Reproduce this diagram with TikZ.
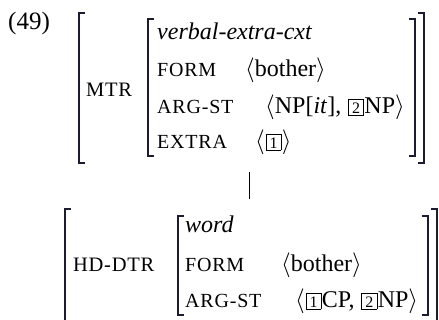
\documentclass[tikz,border=0pt]{standalone}
\usepackage{fontspec}
\setmainfont{Liberation Serif}
\newfontfamily\featfont[LetterSpace=4]{Liberation Serif}
\newfontfamily\pathfont[LetterSpace=3.5]{Liberation Serif}

% feature names (small-cap style), path labels, boxed tags
\newcommand\feat[1]{{\featfont\fontsize{20}{22}\selectfont #1}}
\newcommand\pathlbl[1]{{\pathfont\fontsize{20.5}{22}\selectfont #1}}
\newcommand\tagnum[1]{\kern0.8pt{\setlength\fboxsep{0.5pt}\setlength\fboxrule{0.6pt}%
  \framebox{\makebox[13.5pt]{\rule[-0.3pt]{0pt}{14pt}\fontsize{16}{16}\selectfont #1}}}\kern0.6pt}
\newcommand\lang{$\langle$}
\newcommand\rang{$\rangle$}

\begin{document}
\begin{tikzpicture}[x=1pt,y=-1pt,
  txt/.style={anchor=base west,inner sep=0pt,font=\fontsize{24}{28}\selectfont},
  brk/.style={line width=1.3pt,draw={rgb,255:red,28;green,28;blue,48}}]
\useasboundingbox (0,0) rectangle (439,320);

% example number
\node[txt,font=\fontsize{25}{28}\selectfont] (num) at (8,30) {(49)};

% ---------- mother AVM ----------
\node[txt] (mtr) at (86,97) {\pathlbl{MTR}};
\node[txt] (mtype) at (157,40) {\textit{verbal-extra-cxt}};
\node[txt] (mform) at (157,77) {\feat{FORM}};
\node[txt] (mformv) at (245,77) {\lang bother\rang};
\node[txt] (marg) at (157,114) {\feat{ARG-ST}};
\node[txt] (margv) at (265,114) {\lang NP[\textit{it}], \tagnum{2}NP\rang};
\node[txt] (mext) at (157,149) {\feat{EXTRA}};
\node[txt] (mextv) at (255,149) {\lang\tagnum{1}\rang};

% brackets of the mother AVM
\draw[brk] (85,13) -- (79,13) -- (79,163) -- (85,163);
\draw[brk] (154,19) -- (148,19) -- (148,156) -- (154,156);
\draw[brk] (409,19) -- (415,19) -- (415,156) -- (409,156);
\draw[brk] (418,13) -- (424,13) -- (424,163) -- (418,163);

% link between mother and daughter
\coordinate (top) at (249,172);
\coordinate (bot) at (249,199);
\draw[line width=0.8pt] (top) -- (bot);

% ---------- head daughter AVM ----------
\node[txt] (hd) at (73,272) {\pathlbl{HD-DTR}};
\node[txt] (dtype) at (185,233) {\textit{word}};
\node[txt] (dform) at (185,272) {\feat{FORM}};
\node[txt] (dformv) at (281,272) {\lang bother\rang};
\node[txt] (darg) at (185,308) {\feat{ARG-ST}};
\node[txt] (dargv) at (295,308) {\lang\tagnum{1}CP, \tagnum{2}NP\rang};

% brackets of the daughter AVM
\draw[brk] (71,209) -- (65,209) -- (65,330);
\draw[brk] (184,216) -- (178,216) -- (178,315) -- (184,315);
\draw[brk] (422,216) -- (428,216) -- (428,315) -- (422,315);
\draw[brk] (431,209) -- (437,209) -- (437,330);
\end{tikzpicture}
\end{document}
